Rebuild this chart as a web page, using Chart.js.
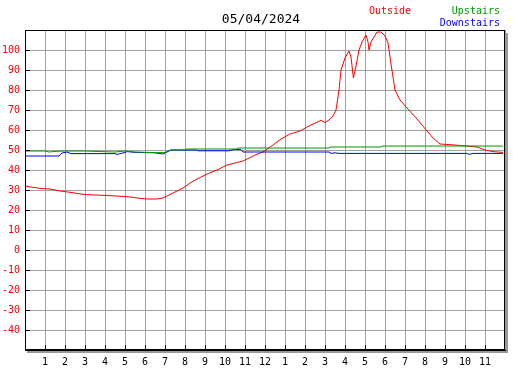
<!DOCTYPE html>
<html>
<head>
<meta charset="utf-8">
<script src="https://cdn.jsdelivr.net/npm/chart.js@4"></script>
<style>
  body { margin: 0; background: #fff; }
  #wrap { position: relative; width: 527px; height: 370px; font-family: "DejaVu Sans Mono", monospace; }
  #title { position: absolute; left: 0; width: 522px; top: 11px; text-align: center; font-size: 13px; color: #000; }
  .leg { position: absolute; font-size: 10px; line-height: 12px; }
</style>
</head>
<body>
<div id="wrap">
  <canvas id="chart" width="527" height="370"></canvas>
  <div id="title">05/04/2024</div>
  <div class="leg" style="left:369px; top:5px; color:#ff0000;">Outside</div>
  <div class="leg" style="right:27px; top:5px; color:#009900;">Upstairs</div>
  <div class="leg" style="right:27px; top:17px; color:#0000ff;">Downstairs</div>
</div>
<script>
// hours since midnight and temperatures
const outsideHours = [0, 0.3, 0.75, 1.25, 1.75, 2.3, 2.9, 3.5, 4.2, 4.75, 5.25, 5.75, 6.1, 6.6, 6.9, 7.2, 7.5, 7.9, 8.25, 8.6, 9.1, 9.6, 10.1, 10.5, 10.9, 11.2, 11.5, 11.9, 12.4, 12.8, 13.25, 13.75, 14.1, 14.4, 14.8, 15, 15.2, 15.4, 15.55, 15.7, 15.8, 16, 16.2, 16.3, 16.42, 16.55, 16.7, 16.85, 17.05, 17.15, 17.2, 17.3, 17.45, 17.6, 17.8, 18, 18.15, 18.3, 18.5, 18.75, 19.1, 19.6, 20.1, 20.4, 20.75, 21.5, 22.1, 22.6, 23, 23.4, 23.9];
const outsideTemps = [32, 31.5, 30.8, 30.5, 29.5, 28.8, 27.8, 27.5, 27.2, 26.9, 26.5, 25.8, 25.5, 25.5, 26, 27.5, 29, 31, 33.5, 35.5, 38, 40, 42.5, 43.5, 44.5, 46, 47.5, 49, 52.5, 55.5, 58, 59.5, 61.5, 63, 64.8, 63.8, 65, 67, 70, 80, 90, 96, 99.5, 96.5, 86, 92, 100, 104, 107.5, 104, 100, 104, 106.5, 109, 109, 107, 103.5, 93, 80, 75, 71, 65.5, 59.5, 56, 53, 52.5, 52, 51.5, 50, 49.2, 48.8];

const upstairsHours = [0, 1.0, 1.2, 1.5, 2, 3, 3.8, 4.5, 5, 5.5, 6.5, 7, 7.1, 7.3, 8, 8.05, 10.6, 10.65, 15.2, 15.25, 17.8, 17.85, 23.9];
const upstairsTemps = [49.5, 49.5, 49, 49.3, 49.5, 49.5, 49.2, 49, 49.5, 49, 48.7, 48.7, 49.5, 50, 50, 50.5, 50.5, 51, 51, 51.5, 51.5, 52, 52];

const downstairsHours = [0, 1.7, 1.85, 2.1, 2.3, 4.5, 4.6, 4.9, 5.1, 5.5, 6.5, 6.9, 7.1, 7.3, 8.6, 8.65, 10.2, 10.4, 10.8, 10.9, 15.2, 15.3, 15.5, 15.7, 22.1, 22.2, 22.4, 23.9];
const downstairsTemps = [47, 47, 48.5, 49, 48.2, 48.2, 47.8, 48.5, 49.2, 48.8, 48.6, 48, 49, 50, 50, 49.6, 49.6, 50.2, 50.2, 49, 49, 48.3, 48.6, 48.3, 48.3, 47.8, 48.3, 48.3];

const yMin = -50, yMax = 110;
const hourLabels = ['', '1', '2', '3', '4', '5', '6', '7', '8', '9', '10', '11', '12', '1', '2', '3', '4', '5', '6', '7', '8', '9', '10', '11', ''];

function pts(xs, ys) {
  return xs.map((x, i) => ({ x: x, y: ys[i] }));
}

// frame, shadow and the short inside tick marks
const framePlugin = {
  id: 'frame',
  beforeDraw(chart) {
    const a = chart.chartArea, ctx = chart.ctx;
    ctx.save();
    ctx.fillStyle = '#999999';
    ctx.fillRect(a.left + 2, a.bottom, a.right - a.left + 1, 3);
    ctx.fillRect(a.right, a.top + 3, 3, a.bottom - a.top);
    ctx.restore();
  },
  afterDraw(chart) {
    const a = chart.chartArea, ctx = chart.ctx;
    const xs = chart.scales.x, ys = chart.scales.y;
    ctx.save();
    ctx.strokeStyle = '#000';
    ctx.lineWidth = 1;
    ctx.strokeRect(a.left + 0.5, a.top + 0.5, a.right - a.left - 1, a.bottom - a.top - 1);
    ctx.beginPath();
    for (let v = yMin + 10; v < yMax; v += 10) {
      const py = Math.round(ys.getPixelForValue(v)) + 0.5;
      ctx.moveTo(a.left, py);
      ctx.lineTo(a.left + 5, py);
    }
    for (let h = 1; h < 24; h++) {
      const px = Math.round(xs.getPixelForValue(h)) + 0.5;
      ctx.moveTo(px, a.bottom);
      ctx.lineTo(px, a.bottom - 5);
    }
    ctx.stroke();
    ctx.restore();
  }
};

const line = (label, data, color) => ({
  label: label,
  data: data,
  borderColor: color,
  backgroundColor: color,
  borderWidth: 1,
  pointRadius: 0,
  tension: 0,
  fill: false
});

new Chart(document.getElementById('chart').getContext('2d'), {
  type: 'line',
  data: {
    datasets: [
      line('Upstairs', pts(upstairsHours, upstairsTemps), '#009900'),
      line('Downstairs', pts(downstairsHours, downstairsTemps), '#0000ff'),
      line('Outside', pts(outsideHours, outsideTemps), '#ff0000')
    ]
  },
  options: {
    responsive: false,
    animation: false,
    devicePixelRatio: 1,
    layout: { padding: { left: 0, top: 30, right: 22, bottom: 0 } },
    plugins: { legend: { display: false }, title: { display: false }, tooltip: { enabled: false } },
    scales: {
      x: {
        type: 'linear',
        min: 0,
        max: 24,
        afterFit(s) { s.height = 20; },
        ticks: {
          stepSize: 1,
          autoSkip: false,
          maxRotation: 0,
          padding: 6,
          color: '#000',
          font: { family: 'DejaVu Sans Mono', size: 10 },
          callback: (v) => hourLabels[v]
        },
        grid: { color: '#a0a0a0', lineWidth: 1, drawTicks: false },
        border: { color: '#000', width: 1 }
      },
      y: {
        min: yMin,
        max: yMax,
        afterFit(s) { s.width = 25; },
        ticks: {
          stepSize: 10,
          autoSkip: false,
          padding: 5,
          color: '#ff0000',
          font: { family: 'DejaVu Sans Mono', size: 10 },
          callback: (v) => (v === yMin || v === yMax) ? '' : v
        },
        grid: { color: '#a0a0a0', lineWidth: 1, drawTicks: false },
        border: { color: '#000', width: 1 }
      }
    }
  },
  plugins: [framePlugin]
});
</script>
</body>
</html>
